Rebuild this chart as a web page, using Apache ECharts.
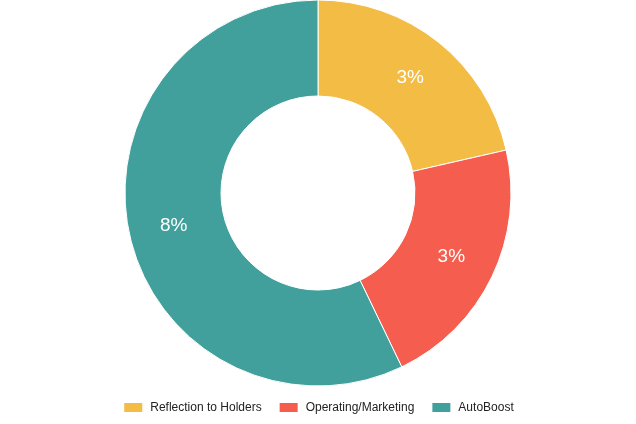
<!DOCTYPE html>
<html><head><meta charset="utf-8">
<script src="https://cdn.jsdelivr.net/npm/echarts@6/dist/echarts.min.js"></script>
<style>html,body{margin:0;padding:0;background:#fff}#c{width:636px;height:424px}</style>
</head><body><div id="c"></div>
<script>
const categories = ['Reflection to Holders', 'Operating/Marketing', 'AutoBoost'];
const values = [3, 3, 8];
const colors = ['#F3BC45', '#F55D4E', '#41A09C'];

const chart = echarts.init(document.getElementById('c'), null, {renderer: 'canvas'});
chart.setOption({
  animation: false,
  color: colors,
  legend: {
    bottom: 5,
    left: 'center',
    itemWidth: 20,
    itemHeight: 11,
    itemGap: 16,
    icon: 'rect',
    textStyle: {fontFamily: 'Liberation Sans, Arial, sans-serif', fontSize: 12, color: '#222', padding: [0,0,0,2]},
    data: categories
  },
  series: [{
    type: 'pie',
    center: [318, 193],
    radius: [97, 193],
    startAngle: 90,
    clockwise: true,
    itemStyle: {borderColor: '#fff', borderWidth: 1},
    label: {
      show: true,
      position: 'inside',
      formatter: p => p.value + '%',
      color: '#fff',
      fontSize: 19,
      fontFamily: 'Liberation Sans, Arial, sans-serif'
    },
    labelLine: {show: false},
    emphasis: {disabled: true},
    data: categories.map((n, i) => ({name: n, value: values[i]}))
  }]
});
</script></body></html>
